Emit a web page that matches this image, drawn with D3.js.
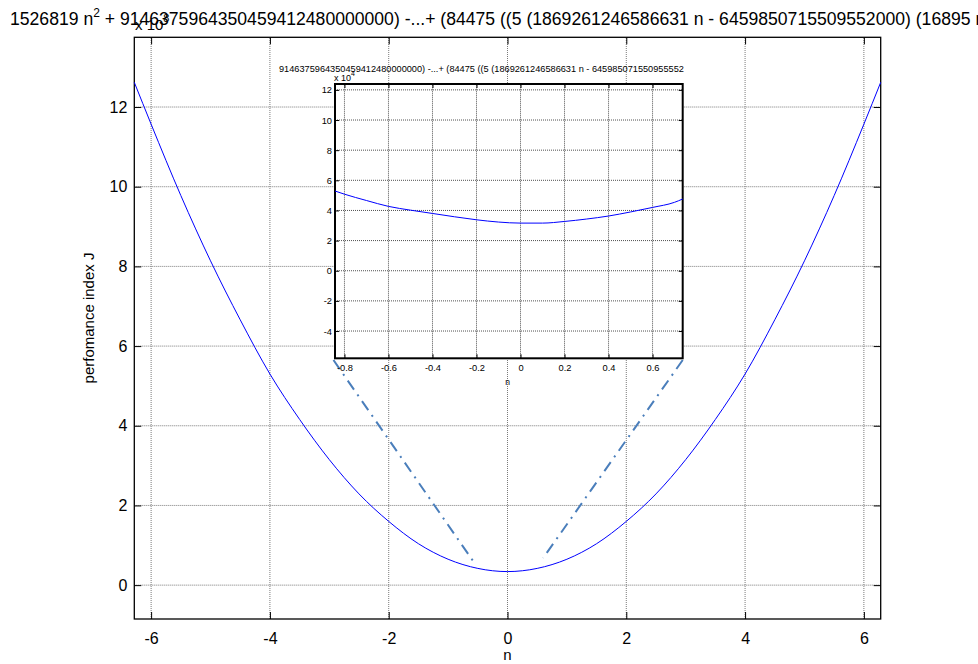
<!DOCTYPE html>
<html>
<head>
<meta charset="utf-8">
<script src="https://cdn.jsdelivr.net/npm/d3@7"></script>
<style>
  html, body { margin: 0; padding: 0; background: #fff; }
  svg { display: block; font-family: "Liberation Sans", Arial, Helvetica, sans-serif; }
</style>
</head>
<body>
<svg id="chart" width="978" height="664"></svg>
<script>
// Performance index J versus n (main view) and a close-up around n = 0 (inset).
const mainN = [-6.283, -6, -5.5, -5, -4.5, -4, -3.5, -3, -2.5, -2, -1.5, -1, -0.5, 0,
               0.5, 1, 1.5, 2, 2.5, 3, 3.5, 4, 4.5, 5, 5.5, 6, 6.283];
const mainJ = [12.62, 11.57, 9.78, 8.14, 6.66, 5.3, 4.16, 3.15, 2.29, 1.6, 1.04, 0.65, 0.42, 0.34,
               0.42, 0.65, 1.04, 1.6, 2.29, 3.15, 4.16, 5.3, 6.66, 8.14, 9.78, 11.57, 12.62];

const insetN = [-0.843, -0.8, -0.7, -0.6, -0.5, -0.4, -0.3, -0.2, -0.1, 0,
                0.1, 0.2, 0.3, 0.4, 0.5, 0.6, 0.7, 0.737];
const insetJ = [5.29, 5.08, 4.66, 4.27, 4.02, 3.8, 3.58, 3.38, 3.23, 3.16,
                3.16, 3.27, 3.43, 3.63, 3.9, 4.2, 4.54, 4.76];

const mainXTicks = [-6, -4, -2, 0, 2, 4, 6];
const mainYTicks = [0, 2, 4, 6, 8, 10, 12];
const insetXTicks = [-0.8, -0.6, -0.4, -0.2, 0, 0.2, 0.4, 0.6];
const insetYTicks = [-4, -2, 0, 2, 4, 6, 8, 10, 12];

// Zoom connector lines, [n, J] in main-axis units: inset corner -> curve bottom
const connectors = [
  [[-2.93, 5.65], [-0.53, 0.5]],
  [[2.95, 5.65], [0.6, 0.68]]
];

const mainTitleA = "1526819 n";
const mainTitleB = " + 9146375964350459412480000000) -...+ (84475 ((5 (1869261246586631 n - 6459850715509552000) (16895 n";
const insetTitle = "9146375964350459412480000000) -...+ (84475 ((5 (1869261246586631 n - 645985071550955552";

const svg = d3.select("#chart");

function drawAxes(g, cfg) {
  const { x, y, xTicks, yTicks, fs, tickLen, gridColor, frameW, xLabelOff, yLabelOff } = cfg;
  const [x0, x1] = x.range();
  const [y0, y1] = y.range(); // y0 bottom, y1 top
  const fmt = d => String(d);

  // dotted grid
  g.append("g").selectAll("line").data(xTicks).join("line")
    .attr("x1", d => x(d)).attr("x2", d => x(d))
    .attr("y1", y0).attr("y2", y1)
    .attr("stroke", gridColor).attr("stroke-width", 1).attr("stroke-dasharray", "1,1");
  g.append("g").selectAll("line").data(yTicks).join("line")
    .attr("y1", d => y(d)).attr("y2", d => y(d))
    .attr("x1", x0).attr("x2", x1)
    .attr("stroke", gridColor).attr("stroke-width", 1).attr("stroke-dasharray", "1,1");

  // axes with inward ticks on all four sides
  const bottom = g.append("g").attr("transform", `translate(0,${y0})`)
    .call(d3.axisBottom(x).tickValues(xTicks).tickSizeInner(-tickLen).tickSizeOuter(0).tickFormat(fmt));
  bottom.selectAll("text").attr("y", xLabelOff).attr("font-size", fs).attr("fill", "#000");
  const top = g.append("g").attr("transform", `translate(0,${y1})`)
    .call(d3.axisTop(x).tickValues(xTicks).tickSizeInner(-tickLen).tickSizeOuter(0).tickFormat(""));
  const left = g.append("g").attr("transform", `translate(${x0},0)`)
    .call(d3.axisLeft(y).tickValues(yTicks).tickSizeInner(-tickLen).tickSizeOuter(0).tickFormat(fmt));
  left.selectAll("text").attr("x", -yLabelOff).attr("font-size", fs).attr("fill", "#000");
  const right = g.append("g").attr("transform", `translate(${x1},0)`)
    .call(d3.axisRight(y).tickValues(yTicks).tickSizeInner(-tickLen).tickSizeOuter(0).tickFormat(""));
  [bottom, top, left, right].forEach(a => {
    a.select(".domain").remove();
    a.selectAll(".tick line").attr("stroke", "#000").attr("stroke-width", 1);
    a.selectAll("text").attr("font-family", "Liberation Sans, Arial, sans-serif");
  });

  g.append("rect")
    .attr("x", x0).attr("y", y1).attr("width", x1 - x0).attr("height", y0 - y1)
    .attr("fill", "none").attr("stroke", "#000").attr("stroke-width", frameW);
}

// ---------- main axes ----------
const mx = d3.scaleLinear().domain([-6.283, 6.283]).range([134.3, 880.7]);
const my = d3.scaleLinear().domain([-0.85, 13.75]).range([619, 37.3]);

const main = svg.append("g");
drawAxes(main, {
  x: mx, y: my, xTicks: mainXTicks, yTicks: mainYTicks, fs: 16, tickLen: 7,
  gridColor: "#7a7a7a", frameW: 1.3, xLabelOff: 14, yLabelOff: 7
});

const line = (xs, ys) => d3.line().x(i => xs(i[0])).y(i => ys(i[1])).curve(d3.curveMonotoneX);
main.append("path")
  .datum(mainN.map((n, i) => [n, mainJ[i]]))
  .attr("d", line(mx, my))
  .attr("fill", "none").attr("stroke", "#0000ff").attr("stroke-width", 1);

// main labels
svg.append("text").attr("x", 507.5).attr("y", 660).attr("text-anchor", "middle")
  .attr("font-size", 15).text("n");
svg.append("text")
  .attr("transform", "translate(94,318) rotate(-90)")
  .attr("text-anchor", "middle").attr("font-size", 15).text("perfomance index J");
const mExp = svg.append("text").attr("x", 135).attr("y", 30).attr("font-size", 15);
mExp.append("tspan").text("x 10");
mExp.append("tspan").attr("dy", -8).attr("font-size", 11).text("8");

const title = svg.append("text").attr("x", 10).attr("y", 25).attr("font-size", 17.6);
title.append("tspan").text(mainTitleA);
title.append("tspan").attr("dy", -8).attr("font-size", 12).text("2");
title.append("tspan").attr("dy", 8).text(mainTitleB);

// connector lines (dash-dot)
svg.append("g").selectAll("line").data(connectors).join("line")
  .attr("x1", d => mx(d[0][0])).attr("y1", d => my(d[0][1]))
  .attr("x2", d => mx(d[1][0])).attr("y2", d => my(d[1][1]))
  .attr("stroke", "#4a7ebb").attr("stroke-width", 2)
  .attr("stroke-dasharray", "11,6,2,6");

// ---------- inset axes ----------
const ix = d3.scaleLinear().domain([-0.843, 0.737]).range([335, 682.7]);
const iy = d3.scaleLinear().domain([-5.81, 12.39]).range([358.3, 84]);

const inset = svg.append("g");
inset.append("rect").attr("x", 335).attr("y", 84).attr("width", 347.7).attr("height", 274.3)
  .attr("fill", "#fff");
drawAxes(inset, {
  x: ix, y: iy, xTicks: insetXTicks, yTicks: insetYTicks, fs: 9.3, tickLen: 4,
  gridColor: "#505050", frameW: 2, xLabelOff: 6, yLabelOff: 3
});
inset.append("path")
  .datum(insetN.map((n, i) => [n, insetJ[i]]))
  .attr("d", line(ix, iy))
  .attr("fill", "none").attr("stroke", "#0000ff").attr("stroke-width", 1);

svg.append("text").attr("x", 507.5).attr("y", 385).attr("text-anchor", "middle")
  .attr("font-size", 8.5).text("n");
const iExp = svg.append("text").attr("x", 334).attr("y", 81).attr("font-size", 9);
iExp.append("tspan").text("x 10");
iExp.append("tspan").attr("dy", -5).attr("font-size", 7).text("4");

svg.append("defs").append("clipPath").attr("id", "insetTitleClip")
  .append("rect").attr("x", 0).attr("y", 55).attr("width", 693).attr("height", 30);
svg.append("text").attr("x", 279).attr("y", 72).attr("font-size", 9.2)
  .attr("clip-path", "url(#insetTitleClip)").text(insetTitle);
</script>
</body>
</html>
